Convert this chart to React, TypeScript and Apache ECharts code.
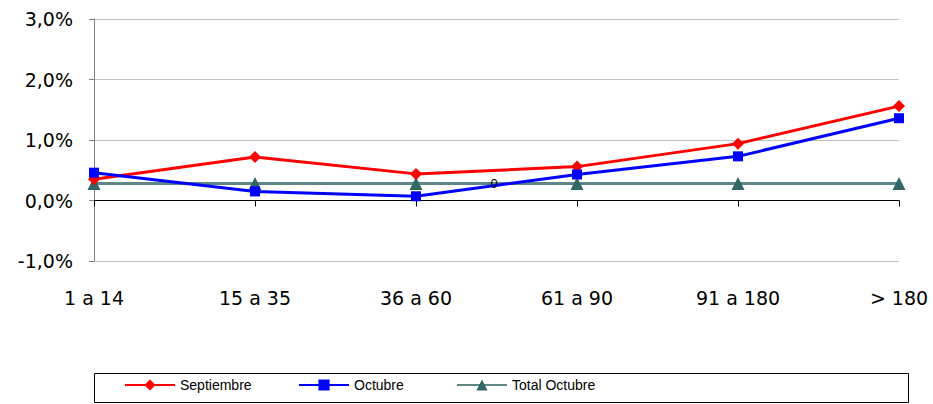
import React, { useEffect, useRef } from "react";
import * as echarts from "echarts";

const categories = ["1 a 14", "15 a 35", "36 a 60", "61 a 90", "91 a 180", "> 180"];
const septiembre = [0.35, 0.72, 0.44, 0.56, 0.94, 1.56];
const octubre = [0.46, 0.15, 0.07, 0.43, 0.73, 1.36];
const totalOctubre = [0.28, 0.28, 0.28, 0.28, 0.28, 0.28];
const yTicks = { min: -1, max: 3, interval: 1 };
const legendNames = ["Septiembre", "Octubre", "Total Octubre"];

const fmt = (v: number) => v.toFixed(1).replace(".", ",") + "%";

export default function App() {
  const ref = useRef<HTMLDivElement>(null);
  useEffect(() => {
    if (!ref.current) return;
    const chart = echarts.init(ref.current, undefined, { renderer: "svg" });
    const font = "'DejaVu Sans', 'Liberation Sans', Arial, sans-serif";
    const legendFont = "'Liberation Sans', Arial, sans-serif";
    const legendLefts = [124, 298, 456];
    chart.setOption({
      animation: false,
      backgroundColor: "#ffffff",
      textStyle: { fontFamily: font },
      grid: { left: 94, right: 34, top: 19, bottom: 143, containLabel: false },
      xAxis: [
        {
          type: "category",
          data: categories,
          boundaryGap: false,
          position: "bottom",
          axisLine: { show: false, onZero: false },
          axisTick: { show: false },
          axisLabel: { color: "#000", fontSize: 19, margin: 27, fontFamily: font },
          splitLine: { show: false },
        },
        {
          type: "category",
          data: categories,
          boundaryGap: false,
          position: "bottom",
          axisLine: { show: true, onZero: true, lineStyle: { color: "#000", width: 1 } },
          axisTick: { show: true, length: 6, lineStyle: { color: "#000" } },
          axisLabel: { show: false },
          splitLine: { show: false },
        },
      ],
      yAxis: {
        type: "value",
        min: yTicks.min,
        max: yTicks.max,
        interval: yTicks.interval,
        axisLine: { show: true, lineStyle: { color: "#808080" } },
        axisTick: { show: true, length: 5, lineStyle: { color: "#808080" } },
        axisLabel: { color: "#000", fontSize: 19, margin: 21, formatter: fmt, fontFamily: font },
        splitLine: { show: true, lineStyle: { color: "#c0c0c0", width: 1 } },
      },
      legend: legendNames.map((name, i) => ({
        left: legendLefts[i],
        top: 378,
        padding: 0,
        itemWidth: 50,
        itemHeight: 14,
        textStyle: { fontSize: 14, color: "#000", fontFamily: legendFont },
        data: [name],
      })),
      graphic: [
        {
          type: "rect",
          shape: { x: 94.5, y: 373.5, width: 814, height: 29 },
          style: { fill: "none", stroke: "#000", lineWidth: 1 },
          z: -1,
        },
        {
          type: "text",
          x: 494,
          y: 183,
          style: { text: "0", font: "13px 'Liberation Sans', Arial", fill: "#000", align: "center", verticalAlign: "middle" },
          z: 100,
        },
      ],
      series: [
        {
          name: "Total Octubre",
          type: "line",
          data: totalOctubre,
          symbol: "triangle",
          symbolSize: 13,
          itemStyle: { color: "#336666" },
          lineStyle: { color: "#5f8686", width: 3 },
          z: 3,
        },
        {
          name: "Septiembre",
          type: "line",
          data: septiembre,
          symbol: "diamond",
          symbolSize: 12,
          itemStyle: { color: "#ff0000" },
          lineStyle: { color: "#ff0000", width: 3 },
          z: 4,
        },
        {
          name: "Octubre",
          type: "line",
          data: octubre,
          symbol: "rect",
          symbolSize: 10,
          itemStyle: { color: "#0000ff" },
          lineStyle: { color: "#0000ff", width: 3 },
          z: 5,
        },
      ],
    });
    return () => chart.dispose();
  }, []);
  return <div ref={ref} style={{ width: 933, height: 404, position: "absolute", left: 0, top: 0 }} />;
}
